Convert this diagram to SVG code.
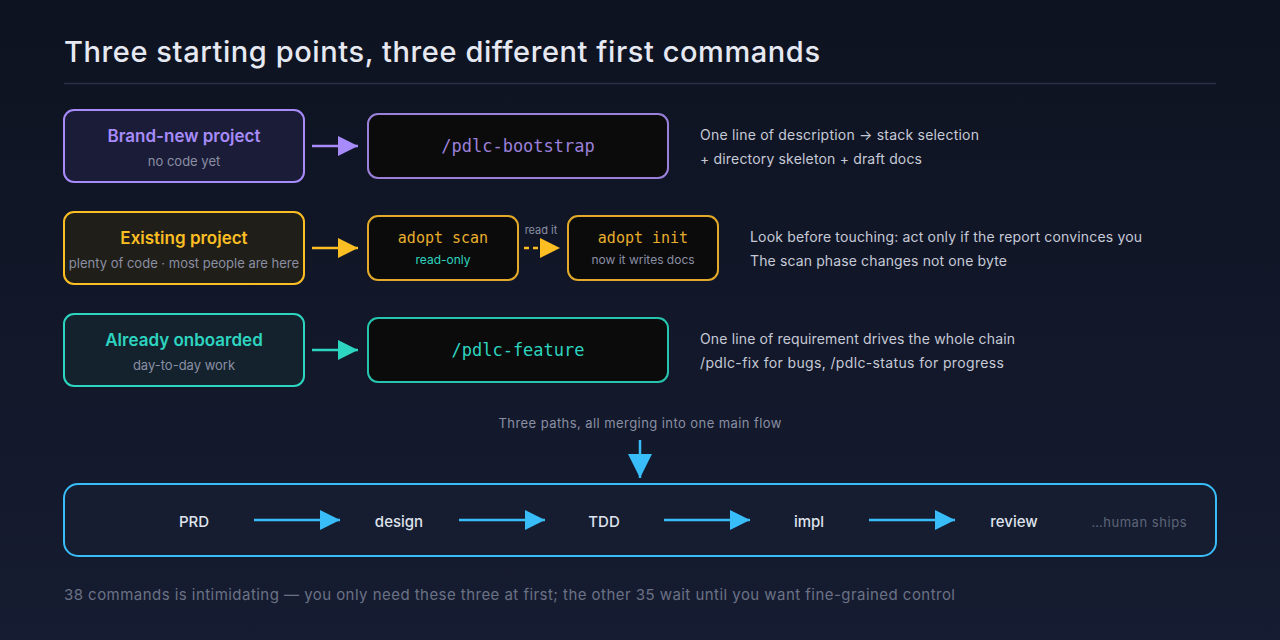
<svg xmlns="http://www.w3.org/2000/svg" width="1280" height="640" viewBox="0 0 1280 640">
<defs>
<linearGradient id="bg" x1="0" y1="0" x2="0" y2="1">
<stop offset="0" stop-color="#0e1321"/>
<stop offset="1" stop-color="#161c31"/>
</linearGradient>
<marker id="mP" viewBox="0 0 20 20" refX="20" refY="10" markerWidth="20" markerHeight="20" markerUnits="userSpaceOnUse" orient="auto"><path d="M0,0 L20,10 L0,20 Z" fill="#a78bfa"/></marker>
<marker id="mY" viewBox="0 0 20 20" refX="20" refY="10" markerWidth="20" markerHeight="20" markerUnits="userSpaceOnUse" orient="auto"><path d="M0,0 L20,10 L0,20 Z" fill="#fbbf24"/></marker>
<marker id="mT" viewBox="0 0 20 20" refX="20" refY="10" markerWidth="20" markerHeight="20" markerUnits="userSpaceOnUse" orient="auto"><path d="M0,0 L20,10 L0,20 Z" fill="#2dd4bf"/></marker>
<marker id="mB" viewBox="0 0 20 20" refX="20" refY="10" markerWidth="20" markerHeight="20" markerUnits="userSpaceOnUse" orient="auto"><path d="M0,0 L20,10 L0,20 Z" fill="#38bdf8"/></marker>
<marker id="mBd" viewBox="0 0 24 24" refX="24" refY="12" markerWidth="24" markerHeight="24" markerUnits="userSpaceOnUse" orient="auto"><path d="M0,0 L24,12 L0,24 Z" fill="#38bdf8"/></marker>
</defs>
<style>
text{font-family:Inter,"Noto Sans","Liberation Sans",sans-serif}
.title{font-size:29px;fill:#e6e9f2;font-weight:500}
.h{font-size:17px;font-weight:600;text-anchor:middle}
.sub{font-size:13px;fill:#8a8fa3;text-anchor:middle}
.mono{font-family:"DejaVu Sans Mono","Liberation Mono",monospace;text-anchor:middle}
.desc{font-size:14px;fill:#c6cad6}
.flow{font-size:15px;fill:#dfe3ec;text-anchor:middle;font-weight:500}
.box{stroke-width:2}
.cmd{fill:#0b0b0c;stroke-width:2}
.ar{stroke-width:2.5;fill:none}
</style>
<rect width="1280" height="640" fill="url(#bg)"/>
<text class="title" x="64" y="62" textLength="756">Three starting points, three different first commands</text>
<line x1="64" y1="83.5" x2="1216" y2="83.5" stroke="#2a3047" stroke-width="1.5"/>

<g id="new-project">
<rect class="box" x="64" y="110" width="240" height="72" rx="10" fill="#1b1d38" stroke="#a78bfa"/>
<text class="h" x="184" y="142" fill="#a78bfa">Brand-new project</text>
<text class="sub" x="184" y="166">no code yet</text>
</g>
<g id="bootstrap">
<rect class="cmd" x="368" y="114" width="300" height="64" rx="10" stroke="#9b80da"/>
<text class="mono" x="518" y="152" font-size="17" fill="#9b80da">/pdlc-bootstrap</text>
</g>
<g id="desc1">
<text class="desc" x="700" y="140" textLength="279">One line of description → stack selection</text>
<text class="desc" x="700" y="164" textLength="222">+ directory skeleton + draft docs</text>
</g>

<g id="existing-project">
<rect class="box" x="64" y="212" width="240" height="72" rx="10" fill="#201e18" stroke="#fbbf24"/>
<text class="h" x="184" y="244" fill="#fbbf24">Existing project</text>
<text class="sub" x="184" y="268">plenty of code · most people are here</text>
</g>
<g id="adopt-scan">
<rect class="cmd" x="368" y="216" width="150" height="64" rx="10" stroke="#e2a92a"/>
<text class="mono" x="443" y="243" font-size="15" fill="#e8ae2c">adopt scan</text>
<text class="sub" x="443" y="264" style="fill:#2dd4bf;font-size:12px">read-only</text>
</g>
<g id="adopt-init">
<rect class="cmd" x="568" y="216" width="150" height="64" rx="10" stroke="#e2a92a"/>
<text class="mono" x="643" y="243" font-size="15" fill="#e8ae2c">adopt init</text>
<text class="sub" x="643" y="264" style="font-size:12px">now it writes docs</text>
</g>
<g id="desc2">
<text class="desc" x="750" y="242" textLength="392">Look before touching: act only if the report convinces you</text>
<text class="desc" x="750" y="266" textLength="257">The scan phase changes not one byte</text>
</g>

<g id="onboarded">
<rect class="box" x="64" y="314" width="240" height="72" rx="10" fill="#14222e" stroke="#2dd4bf"/>
<text class="h" x="184" y="346" fill="#2dd4bf">Already onboarded</text>
<text class="sub" x="184" y="370">day-to-day work</text>
</g>
<g id="feature">
<rect class="cmd" x="368" y="318" width="300" height="64" rx="10" stroke="#26c4ae"/>
<text class="mono" x="518" y="356" font-size="17" fill="#2dd4bf">/pdlc-feature</text>
</g>
<g id="desc3">
<text class="desc" x="700" y="344" textLength="315">One line of requirement drives the whole chain</text>
<text class="desc" x="700" y="368" textLength="304">/pdlc-fix for bugs, /pdlc-status for progress</text>
</g>

<text class="sub" x="640" y="428" textLength="283">Three paths, all merging into one main flow</text>

<g id="main-flow">
<rect x="64" y="484" width="1152" height="72" rx="14" fill="#161d30" stroke="#38bdf8" stroke-width="2"/>
<text class="flow" x="194" y="527">PRD</text>
<text class="flow" x="399" y="527">design</text>
<text class="flow" x="604" y="527">TDD</text>
<text class="flow" x="809" y="527">impl</text>
<text class="flow" x="1014" y="527">review</text>
<text class="sub" x="1139" y="527" textLength="95" style="fill:#5d6478">…human ships</text>
</g>

<g id="connectors">
<line class="ar" x1="312" y1="146" x2="358" y2="146" stroke="#a78bfa" marker-end="url(#mP)"/>
<line class="ar" x1="312" y1="248" x2="358" y2="248" stroke="#fbbf24" marker-end="url(#mY)"/>
<line class="ar" x1="524" y1="248" x2="560" y2="248" stroke="#fbbf24" stroke-dasharray="5 4" marker-end="url(#mY)"/>
<text x="541" y="234" font-size="11" fill="#8a8fa3" text-anchor="middle">read it</text>
<line class="ar" x1="312" y1="350" x2="358" y2="350" stroke="#2dd4bf" marker-end="url(#mT)"/>
<line class="ar" x1="640" y1="440" x2="640" y2="478" stroke="#38bdf8" marker-end="url(#mBd)"/>
<line class="ar" x1="254" y1="520" x2="340" y2="520" stroke="#38bdf8" marker-end="url(#mB)"/>
<line class="ar" x1="459" y1="520" x2="545" y2="520" stroke="#38bdf8" marker-end="url(#mB)"/>
<line class="ar" x1="664" y1="520" x2="750" y2="520" stroke="#38bdf8" marker-end="url(#mB)"/>
<line class="ar" x1="869" y1="520" x2="955" y2="520" stroke="#38bdf8" marker-end="url(#mB)"/>
</g>

<text x="64" y="600" font-size="15" fill="#6b7285" textLength="891">38 commands is intimidating — you only need these three at first; the other 35 wait until you want fine-grained control</text>
</svg>
